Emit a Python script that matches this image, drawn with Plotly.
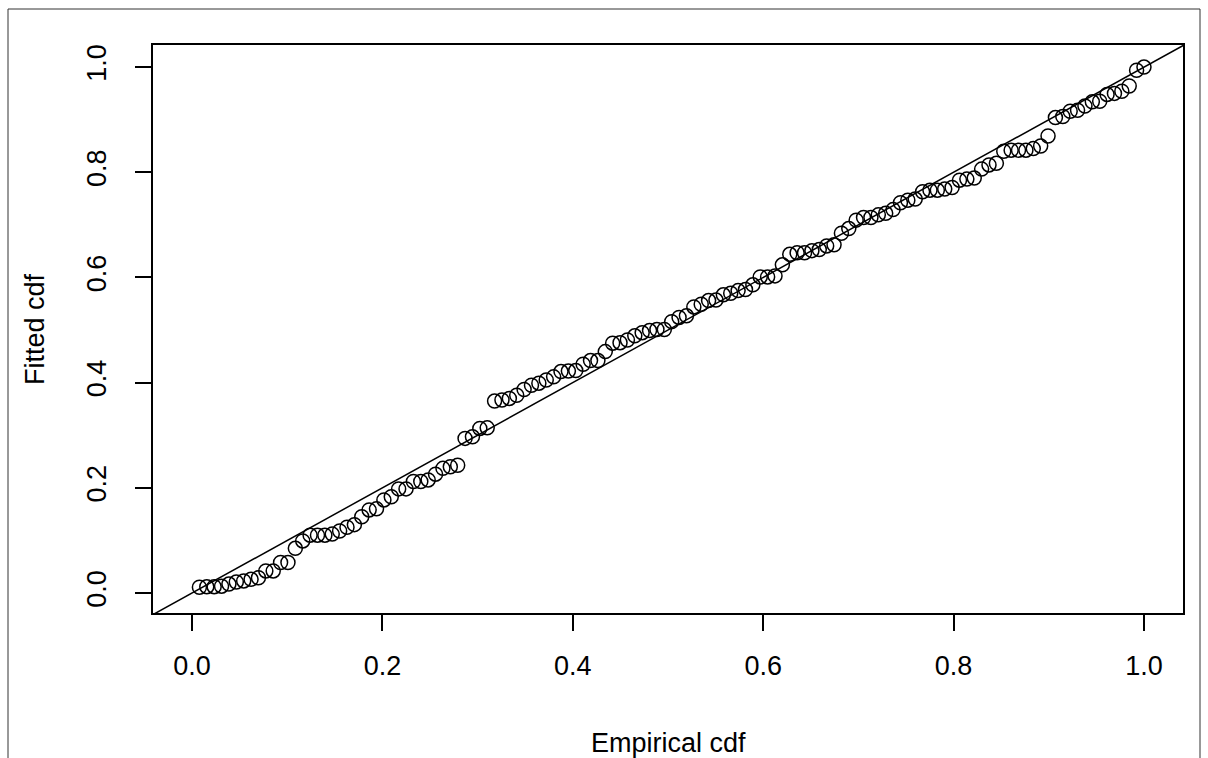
import numpy as np
import plotly.graph_objects as go

# Fitted cdf values (sorted), plotted against empirical cdf i/n
fitted_cdf = [
    0.011, 0.012, 0.012, 0.013, 0.017, 0.021, 0.023, 0.026, 0.029, 0.042,
    0.042, 0.058, 0.058, 0.085, 0.099, 0.110, 0.110, 0.110, 0.112, 0.118,
    0.125, 0.130, 0.145, 0.158, 0.160, 0.177, 0.183, 0.198, 0.198, 0.212,
    0.212, 0.215, 0.226, 0.237, 0.240, 0.243, 0.294, 0.297, 0.313, 0.314,
    0.365, 0.367, 0.370, 0.376, 0.387, 0.395, 0.399, 0.405, 0.411, 0.421,
    0.422, 0.423, 0.435, 0.442, 0.442, 0.459, 0.475, 0.476, 0.481, 0.489,
    0.495, 0.499, 0.501, 0.501, 0.516, 0.524, 0.527, 0.544, 0.549, 0.556,
    0.557, 0.567, 0.570, 0.575, 0.577, 0.586, 0.601, 0.601, 0.603, 0.624,
    0.644, 0.647, 0.647, 0.651, 0.653, 0.660, 0.662, 0.684, 0.693, 0.709,
    0.714, 0.714, 0.719, 0.722, 0.729, 0.742, 0.747, 0.749, 0.763, 0.766,
    0.766, 0.768, 0.771, 0.785, 0.787, 0.789, 0.806, 0.814, 0.817, 0.840,
    0.842, 0.842, 0.842, 0.845, 0.850, 0.869, 0.904, 0.906, 0.916, 0.918,
    0.926, 0.934, 0.935, 0.948, 0.950, 0.954, 0.964, 0.994, 1.000,
]
n = len(fitted_cdf)
empirical_cdf = [(i + 1) / n for i in range(n)]

tick_vals = [0.0, 0.2, 0.4, 0.6, 0.8, 1.0]
tick_text = ["0.0", "0.2", "0.4", "0.6", "0.8", "1.0"]

x_range = [-0.041, 1.041]
y_range = [-0.038, 1.042]

FONT = "Liberation Sans, Arial, Helvetica, sans-serif"
FS = 27

fig = go.Figure()
fig.add_trace(go.Scatter(
    x=empirical_cdf, y=fitted_cdf, mode="markers",
    marker=dict(symbol="circle-open", size=14, color="black",
                line=dict(width=1.5, color="black")),
    showlegend=False, hoverinfo="x+y",
))

# identity line y = x across the whole plotting region
lo = min(x_range[0], y_range[0]) - 0.1
hi = max(x_range[1], y_range[1]) + 0.1
fig.add_shape(type="line", xref="x", yref="y", x0=lo, y0=lo, x1=hi, y1=hi,
              line=dict(color="black", width=1.5), layer="above")

# outer figure frame (R device border)
L, R, T, B = 153, 25, 45, 145
W, H = 1208, 758
pw, ph = W - L - R, H - T - B
def px(xp):
    return (xp - L) / pw
def py(yp):
    return (H - B - yp) / ph
fig.add_shape(type="rect", xref="paper", yref="paper",
              x0=px(8), x1=px(1200), y0=py(790), y1=py(9),
              line=dict(color="#333333", width=1), layer="below")

axis_common = dict(
    showgrid=False, zeroline=False, showline=True, mirror=True,
    linecolor="black", linewidth=1.5,
    ticks="outside", ticklen=16, tickwidth=1.5, tickcolor="black",
    tickvals=tick_vals, ticktext=tick_text,
    tickfont=dict(family=FONT, size=FS, color="black"),
)
fig.update_xaxes(range=x_range, ticklabelstandoff=12, **axis_common)
fig.update_yaxes(range=y_range, tickangle=-90, ticklabelstandoff=18, **axis_common)

fig.add_annotation(text="Empirical cdf", xref="paper", yref="paper",
                   x=0.5, y=py(743), showarrow=False,
                   xanchor="center", yanchor="middle",
                   font=dict(family=FONT, size=FS, color="black"))
fig.add_annotation(text="Fitted cdf", xref="paper", yref="paper",
                   x=px(35), y=0.5, showarrow=False, textangle=-90,
                   xanchor="center", yanchor="middle",
                   font=dict(family=FONT, size=FS, color="black"))

fig.update_layout(
    width=W, height=H,
    margin=dict(l=L, r=R, t=T, b=B),
    paper_bgcolor="white", plot_bgcolor="white",
    font=dict(family=FONT, size=FS, color="black"),
)

fig.write_html("out.html",
               config={"displayModeBar": False},
               post_script="document.body.style.margin='0';document.body.style.overflow='hidden';")
